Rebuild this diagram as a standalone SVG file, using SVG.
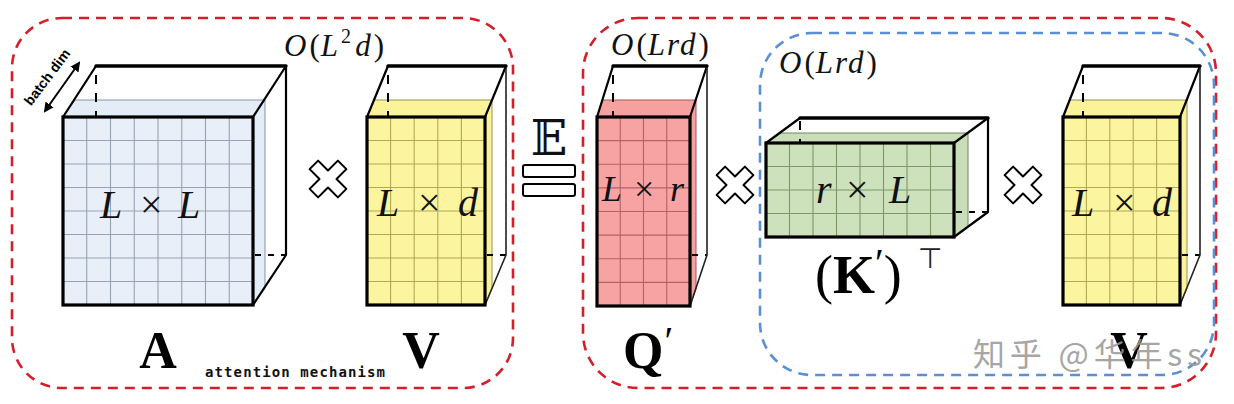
<svg xmlns="http://www.w3.org/2000/svg" width="1234" height="404" viewBox="0 0 1234 404">
<style>
.box{fill:none;stroke-width:2.6;stroke-dasharray:10 7}
.red{stroke:#d41f2a}
.blue{stroke:#5a8fd4}
.frontb{fill:none;stroke:#000;stroke-width:3.2;stroke-linejoin:miter}
.wire{fill:none;stroke:#000;stroke-width:2.2;stroke-linejoin:round;stroke-linecap:round}
.thick{stroke-width:3.4}
.thin{stroke-width:1.6;stroke:#222}
.hid{fill:none;stroke:#000;stroke-width:2;stroke-dasharray:9 9}
.hidh{fill:none;stroke:#000;stroke-width:2;stroke-dasharray:6 7}
.gb{stroke:#97a3b3;stroke-width:1.1;fill:none}
.gy{stroke:#b2a858;stroke-width:1.1;fill:none}
.gr{stroke:#b36363;stroke-width:1.1;fill:none}
.gg{stroke:#7f9868;stroke-width:1.1;fill:none}
.m{font-family:"Liberation Serif","DejaVu Serif",serif;fill:#111}
.it{font-style:italic}
.lab{font-family:"Liberation Serif","DejaVu Serif",serif;font-weight:bold;fill:#000}
.op{fill:#fff;stroke:#000;stroke-width:2;stroke-linejoin:round}
</style>
<defs>
<path id="cross" d="M9.9,-18.38 L18.38,-9.9 L8.49,0 L18.38,9.9 L9.9,18.38 L0,8.49 L-9.9,18.38 L-18.38,9.9 L-8.49,0 L-18.38,-9.9 L-9.9,-18.38 L0,-8.49 Z"/>
<marker id="ah" viewBox="0 0 10 10" refX="8" refY="5" markerWidth="5" markerHeight="5" orient="auto-start-reverse">
<path d="M0,0 L10,5 L0,10 Z" fill="#000"/>
</marker>
</defs>

<g id="groups">
<rect class="box red" x="12" y="18" width="501" height="370" rx="50"/>
<rect class="box red" x="583" y="18" width="633" height="370" rx="55"/>
<rect class="box blue" x="760" y="33" width="454" height="342" rx="52"/>
</g>

<g id="nodeA">
<polygon points="63,117 253,117 265,100 75,100" fill="#e3ecf7" stroke="#8595aa" stroke-width="1"/>
<polygon points="253,117 265,100 265,288 253,305" fill="#e3ecf7" stroke="#8595aa" stroke-width="1"/>
<rect x="63" y="117" width="190" height="188" fill="#e8eff9"/>
<path class="gb" d="M86.75,117V305M110.5,117V305M134.25,117V305M158,117V305M181.75,117V305M205.5,117V305M229.25,117V305M63,140.5H253M63,164H253M63,187.5H253M63,211H253M63,234.5H253M63,258H253M63,281.5H253"/>
<line class="hid" x1="96" y1="75" x2="96" y2="117"/>
<line class="hidh" x1="255" y1="255" x2="286" y2="255"/>
<path class="wire" d="M63,117 L96,66 M253,117 L286,66 M286,66 V255 L253,305"/>
<line class="wire thick" x1="96" y1="66" x2="286" y2="66"/>
<rect class="frontb" x="63" y="117" width="190" height="188"/>
<text class="m" font-size="40" y="218"><tspan class="it" x="100">L</tspan><tspan x="140">×</tspan><tspan class="it" x="178">L</tspan></text>
<text class="lab" font-size="52" x="158" y="368" text-anchor="middle">A</text>
</g>

<g id="nodeV">
<polygon points="367,117 485,117 492,100 374,100" fill="#fbf39a" stroke="#9a9250" stroke-width="1"/>
<polygon points="485,117 492,100 492,288 485,305" fill="#fbf39a" stroke="#9a9250" stroke-width="1"/>
<rect x="367" y="117" width="118" height="188" fill="#fcf59f"/>
<path class="gy" d="M390.6,117V305M414.2,117V305M437.8,117V305M461.4,117V305M367,140.5H485M367,164H485M367,187.5H485M367,211H485M367,234.5H485M367,258H485M367,281.5H485"/>
<line class="hid" x1="388" y1="75" x2="388" y2="117"/>
<line class="hidh" x1="487" y1="255" x2="506" y2="255"/>
<path class="wire" d="M367,117 L388,66 M485,117 L506,66"/>
<path class="wire thin" d="M506,66 V255 L485,305"/>
<line class="wire thick" x1="388" y1="66" x2="506" y2="66"/>
<rect class="frontb" x="367" y="117" width="118" height="188"/>
<text class="m" font-size="40" y="216"><tspan class="it" x="377">L</tspan><tspan x="418">×</tspan><tspan class="it" x="458">d</tspan></text>
<text class="lab" font-size="52" x="421" y="368" text-anchor="middle">V</text>
</g>

<g id="nodeQ">
<polygon points="597,117 690,117 696,100 603,100" fill="#f6a0a0" stroke="#a45858" stroke-width="1"/>
<polygon points="690,117 696,100 696,289 690,306" fill="#f6a0a0" stroke="#a45858" stroke-width="1"/>
<rect x="597" y="117" width="93" height="189" fill="#f7a3a3"/>
<path class="gr" d="M620.25,117V306M643.5,117V306M666.75,117V306M597,140.6H690M597,164.25H690M597,187.9H690M597,211.5H690M597,235.1H690M597,258.75H690M597,282.4H690"/>
<line class="hid" x1="613" y1="75" x2="613" y2="117"/>
<line class="hidh" x1="692" y1="255" x2="707" y2="255"/>
<path class="wire" d="M597,117 L613,66 M690,117 L707,66"/>
<path class="wire thin" d="M707,66 V255 L690,306"/>
<line class="wire thick" x1="613" y1="66" x2="707" y2="66"/>
<rect class="frontb" x="597" y="117" width="93" height="189"/>
<text class="m" font-size="36" y="201"><tspan class="it" x="602">L</tspan><tspan x="634">×</tspan><tspan class="it" x="670">r</tspan></text>
<text class="lab" font-size="52" x="623" y="368">Q<tspan font-weight="normal" dx="1" dy="-14" font-size="40">′</tspan></text>
</g>

<g id="nodeK">
<polygon points="766,143 954,143 968,133 780,133" fill="#c9ddb8" stroke="#6f8a5a" stroke-width="1"/>
<polygon points="954,143 968,133 968,227 954,237" fill="#c9ddb8" stroke="#6f8a5a" stroke-width="1"/>
<rect x="766" y="143" width="188" height="94" fill="#cde1bd"/>
<path class="gg" d="M789.5,143V237M813,143V237M836.5,143V237M860,143V237M883.5,143V237M907,143V237M930.5,143V237M766,166.5H954M766,190H954M766,213.5H954"/>
<line class="hid" x1="800" y1="121" x2="800" y2="143" stroke-dasharray="7 6"/>
<line class="hidh" x1="956" y1="212" x2="988" y2="212"/>
<path class="wire" d="M766,143 L800,118 M954,143 L988,118 M988,118 V212 L954,237"/>
<line class="wire thick" x1="800" y1="118" x2="988" y2="118"/>
<rect class="frontb" x="766" y="143" width="188" height="94"/>
<text class="m" font-size="40" y="203"><tspan class="it" x="816">r</tspan><tspan x="846">×</tspan><tspan class="it" x="889">L</tspan></text>
<text class="lab" font-size="54" y="293"><tspan x="815" font-weight="normal">(</tspan><tspan>K</tspan><tspan font-weight="normal" dy="-17" font-size="40">′</tspan><tspan font-weight="normal" dy="17">)</tspan></text>
<text font-family="DejaVu Sans,sans-serif" font-size="28" x="918" y="268" fill="#222">⊤</text>
</g>

<g id="nodeV2">
<polygon points="1063,117 1180,117 1187,100 1070,100" fill="#fbf39a" stroke="#9a9250" stroke-width="1"/>
<polygon points="1180,117 1187,100 1187,288 1180,305" fill="#fbf39a" stroke="#9a9250" stroke-width="1"/>
<rect x="1063" y="117" width="117" height="188" fill="#fcf59f"/>
<path class="gy" d="M1086.4,117V305M1109.8,117V305M1133.2,117V305M1156.6,117V305M1063,140.5H1180M1063,164H1180M1063,187.5H1180M1063,211H1180M1063,234.5H1180M1063,258H1180M1063,281.5H1180"/>
<line class="hid" x1="1083" y1="75" x2="1083" y2="117"/>
<line class="hidh" x1="1182" y1="255" x2="1200" y2="255"/>
<path class="wire" d="M1063,117 L1083,66 M1180,117 L1200,66"/>
<path class="wire thin" d="M1200,66 V255 L1180,305"/>
<line class="wire thick" x1="1083" y1="66" x2="1200" y2="66"/>
<rect class="frontb" x="1063" y="117" width="117" height="188"/>
<text class="m" font-size="40" y="216"><tspan class="it" x="1072">L</tspan><tspan x="1113">×</tspan><tspan class="it" x="1152">d</tspan></text>
<text class="lab" font-size="52" x="1129" y="368" text-anchor="middle">V</text>
</g>

<g id="operators">
<use href="#cross" class="op" x="328" y="179"/>
<use href="#cross" class="op" x="735" y="185"/>
<use href="#cross" class="op" x="1023" y="185"/>
<text font-family="DejaVu Serif,DejaVu Sans,serif" font-size="48" x="549" y="155" text-anchor="middle" fill="#111">𝔼</text>
<rect x="523" y="165" width="52" height="12" rx="2" fill="#fff" stroke="#000" stroke-width="2"/>
<rect x="523" y="184" width="52" height="12" rx="2" fill="#fff" stroke="#000" stroke-width="2"/>
</g>

<g id="complexity">
<text class="m" font-size="31" y="56" textLength="100"><tspan class="it" x="284">O</tspan><tspan dx="2">(</tspan><tspan class="it">L</tspan><tspan font-size="20" dy="-13" dx="2">2</tspan><tspan class="it" dy="13" dx="3">d</tspan><tspan dx="2">)</tspan></text>
<text class="m" font-size="31" y="55"><tspan class="it" x="611">O</tspan><tspan dx="3">(</tspan><tspan class="it" dx="1">L</tspan><tspan class="it" dx="2">r</tspan><tspan class="it" dx="2">d</tspan><tspan dx="3">)</tspan></text>
<text class="m" font-size="31" y="73"><tspan class="it" x="779">O</tspan><tspan dx="3">(</tspan><tspan class="it" dx="1">L</tspan><tspan class="it" dx="2">r</tspan><tspan class="it" dx="2">d</tspan><tspan dx="3">)</tspan></text>
</g>

<g id="connectors">
<line x1="45" y1="111" x2="79" y2="63" stroke="#000" stroke-width="2" marker-start="url(#ah)" marker-end="url(#ah)"/>
</g>

<g id="annotations">
<text font-family="Liberation Sans,Arial,sans-serif" font-weight="bold" font-size="14" transform="translate(51,80) rotate(-53)" text-anchor="middle" fill="#000">batch dim</text>
<text font-family="DejaVu Sans Mono,monospace" font-weight="bold" font-size="14" x="205" y="377" textLength="180" fill="#111">attention mechanism</text>
<text font-family="Noto Sans CJK SC,Noto Sans,sans-serif" font-size="32" x="973" y="366" textLength="229" fill="#9a9a9a" fill-opacity="0.9">知乎 @华年ss</text>
</g>
</svg>
